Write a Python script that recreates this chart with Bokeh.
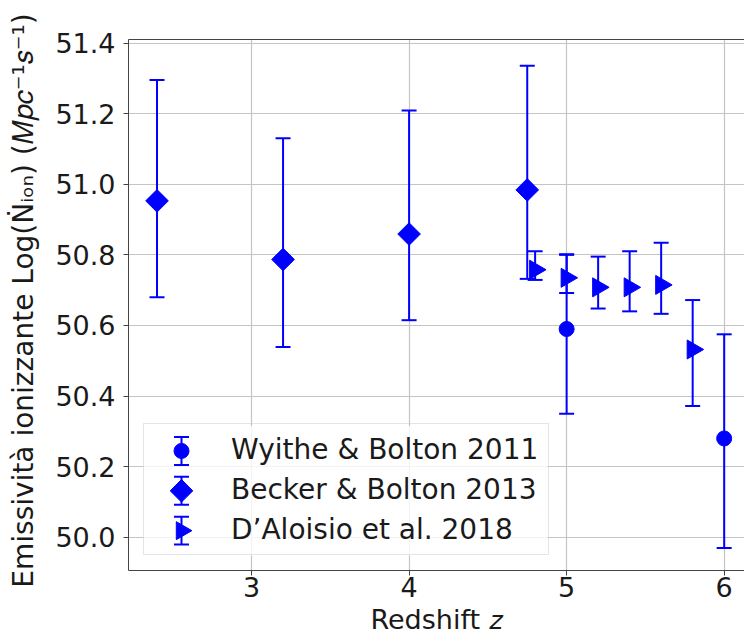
import math

from bokeh.embed import file_html
from bokeh.models import (FixedTicker, Legend, LegendItem, LinearAxis,
                          PrintfTickFormatter, Range1d)
from bokeh.plotting import figure
from bokeh.resources import INLINE

# Wyithe & Bolton 2011: redshift, log emissivity, upper / lower error limits
wb_z = [5.0, 6.0]
wb_val = [50.59, 50.28]
wb_hi = [50.80, 50.575]
wb_lo = [50.35, 49.97]

# Becker & Bolton 2013
bb_z = [2.4, 3.2, 4.0, 4.75]
bb_val = [50.953, 50.787, 50.859, 50.984]
bb_hi = [51.295, 51.130, 51.209, 51.336]
bb_lo = [50.680, 50.539, 50.615, 50.732]

# D'Aloisio et al. 2018
da_z = [4.8, 5.0, 5.2, 5.4, 5.6, 5.8]
da_val = [50.758, 50.735, 50.708, 50.708, 50.715, 50.532]
da_hi = [50.810, 50.802, 50.795, 50.810, 50.834, 50.672]
da_lo = [50.729, 50.692, 50.648, 50.640, 50.633, 50.372]

labels = ["Wyithe & Bolton 2011", "Becker & Bolton 2013", "D\u2019Aloisio et al. 2018"]
x_ticks = [3, 4, 5, 6]
y_ticks = [50.0, 50.2, 50.4, 50.6, 50.8, 51.0, 51.2, 51.4]

FONT = "DejaVu Sans"
TEXT = "#1a1a1a"
SPINE = "#444444"
BLUE = "#0000ff"
FS = "27px"

# plot frame geometry (pixels) and axis limits
W, H = 744, 637
LEFT, TOP, BOTTOM = 128, 39, 65
X0, X1 = 2.219, 6.129
Y0, Y1 = 49.906, 51.41
px_x = (W - LEFT) / (X1 - X0)
px_y = (H - TOP - BOTTOM) / (Y1 - Y0)

p = figure(
    width=W, height=H,
    x_range=Range1d(X0, X1), y_range=Range1d(Y0, Y1),
    output_backend="svg", toolbar_location=None,
    min_border_left=LEFT, min_border_right=0,
    min_border_top=TOP, min_border_bottom=BOTTOM,
    outline_line_color=None, background_fill_color="white",
)

# axes
p.xaxis.ticker = FixedTicker(ticks=x_ticks)
p.yaxis.ticker = FixedTicker(ticks=y_ticks)
p.yaxis.formatter = PrintfTickFormatter(format="%.1f")
for ax in (p.xaxis[0], p.yaxis[0]):
    ax.axis_line_color = SPINE
    ax.axis_line_width = 1
    ax.major_tick_line_color = SPINE
    ax.major_tick_out = 5
    ax.major_tick_in = 0
    ax.minor_tick_line_color = None
    ax.major_label_text_font = FONT
    ax.major_label_text_font_size = FS
    ax.major_label_text_color = TEXT
    ax.axis_label_text_font = FONT
    ax.axis_label_text_font_style = "normal"
    ax.axis_label_text_color = TEXT
p.xaxis.major_label_standoff = 1
p.yaxis.major_label_standoff = 8
p.xaxis.axis_label = "Redshift \U0001D467"
p.xaxis.axis_label_text_font_size = FS
p.xaxis.axis_label_standoff = 4
p.yaxis.axis_label = ("\u00a0Emissivit\u00e0 ionizzante Log(\u1e44\u1d62\u2092\u2099) "
                      "(\U0001D440\U0001D45D\U0001D450\u207b\u00b9\U0001D460\u207b\u00b9)")
p.yaxis.axis_label_text_font_size = "28px"
p.yaxis.axis_label_standoff = 12

# top spine
top = LinearAxis(ticker=FixedTicker(ticks=[]), axis_line_color=SPINE,
                 major_tick_line_color=None, minor_tick_line_color=None,
                 major_label_text_font_size="0px")
p.add_layout(top, "above")

p.grid.grid_line_color = "#c4c4c4"
p.grid.grid_line_width = 1.2


def error_bars(z, lo, hi):
    p.segment(x0=z, y0=lo, x1=z, y1=hi, line_color=BLUE, line_width=2)
    p.scatter(x=z + z, y=lo + hi, marker="dash", size=15,
              line_color=BLUE, line_width=2)


circle = dict(marker="circle", size=15)
diamond = dict(marker="square", angle=math.pi / 4, size=16)
tri_right = dict(marker="triangle", angle=-math.pi / 2, size=19)

# legend geometry (pixels from the frame's lower-left corner)
MARGIN, PAD, ROW, GLYPH_W, STANDOFF, LABEL_W = 15, 5, 40, 66, 16, 312
box_w = 2 * PAD + GLYPH_W + STANDOFF + LABEL_W
box_h = 2 * PAD + ROW * len(labels)

# translucent white panel behind the legend keys
p.quad(left=[X0 + MARGIN / px_x], right=[X0 + (MARGIN + box_w) / px_x],
       bottom=[Y0 + MARGIN / px_y], top=[Y0 + (MARGIN + box_h) / px_y],
       fill_color="white", fill_alpha=0.8, line_color=None)

error_bars(wb_z, wb_lo, wb_hi)
p.scatter(x=wb_z, y=wb_val, fill_color=BLUE, line_color=BLUE, **circle)

error_bars(bb_z, bb_lo, bb_hi)
p.scatter(x=bb_z, y=bb_val, fill_color=BLUE, line_color=BLUE, **diamond)

error_bars(da_z, da_lo, da_hi)
p.scatter(x=da_z, y=da_val, fill_color=BLUE, line_color=BLUE, **tri_right)

legend = Legend(
    items=[LegendItem(label=t, renderers=[]) for t in labels],
    location="bottom_left", margin=MARGIN, padding=PAD, spacing=0,
    glyph_width=GLYPH_W, glyph_height=ROW, label_height=ROW, label_width=LABEL_W,
    label_standoff=STANDOFF,
    label_text_font=FONT, label_text_font_size="28px", label_text_color=TEXT,
    border_line_color="#cccccc", border_line_width=1,
    background_fill_alpha=0,
)
p.add_layout(legend)

# legend keys: marker with its error bar, one per row
key_x = X0 + (MARGIN + PAD + GLYPH_W / 2) / px_x
row_px = [MARGIN + PAD + ROW * (len(labels) - i) - ROW / 2 for i in range(len(labels))]
key_y = [Y0 + r / px_y for r in row_px]
half = 14 / px_y
for ky, shape in zip(key_y, [circle, diamond, dict(tri_right, size=18)]):
    error_bars([key_x], [ky - half], [ky + half])
    p.scatter(x=[key_x], y=[ky], fill_color=BLUE, line_color=BLUE, **shape)

open("out.html", "w").write(file_html(p, INLINE))
